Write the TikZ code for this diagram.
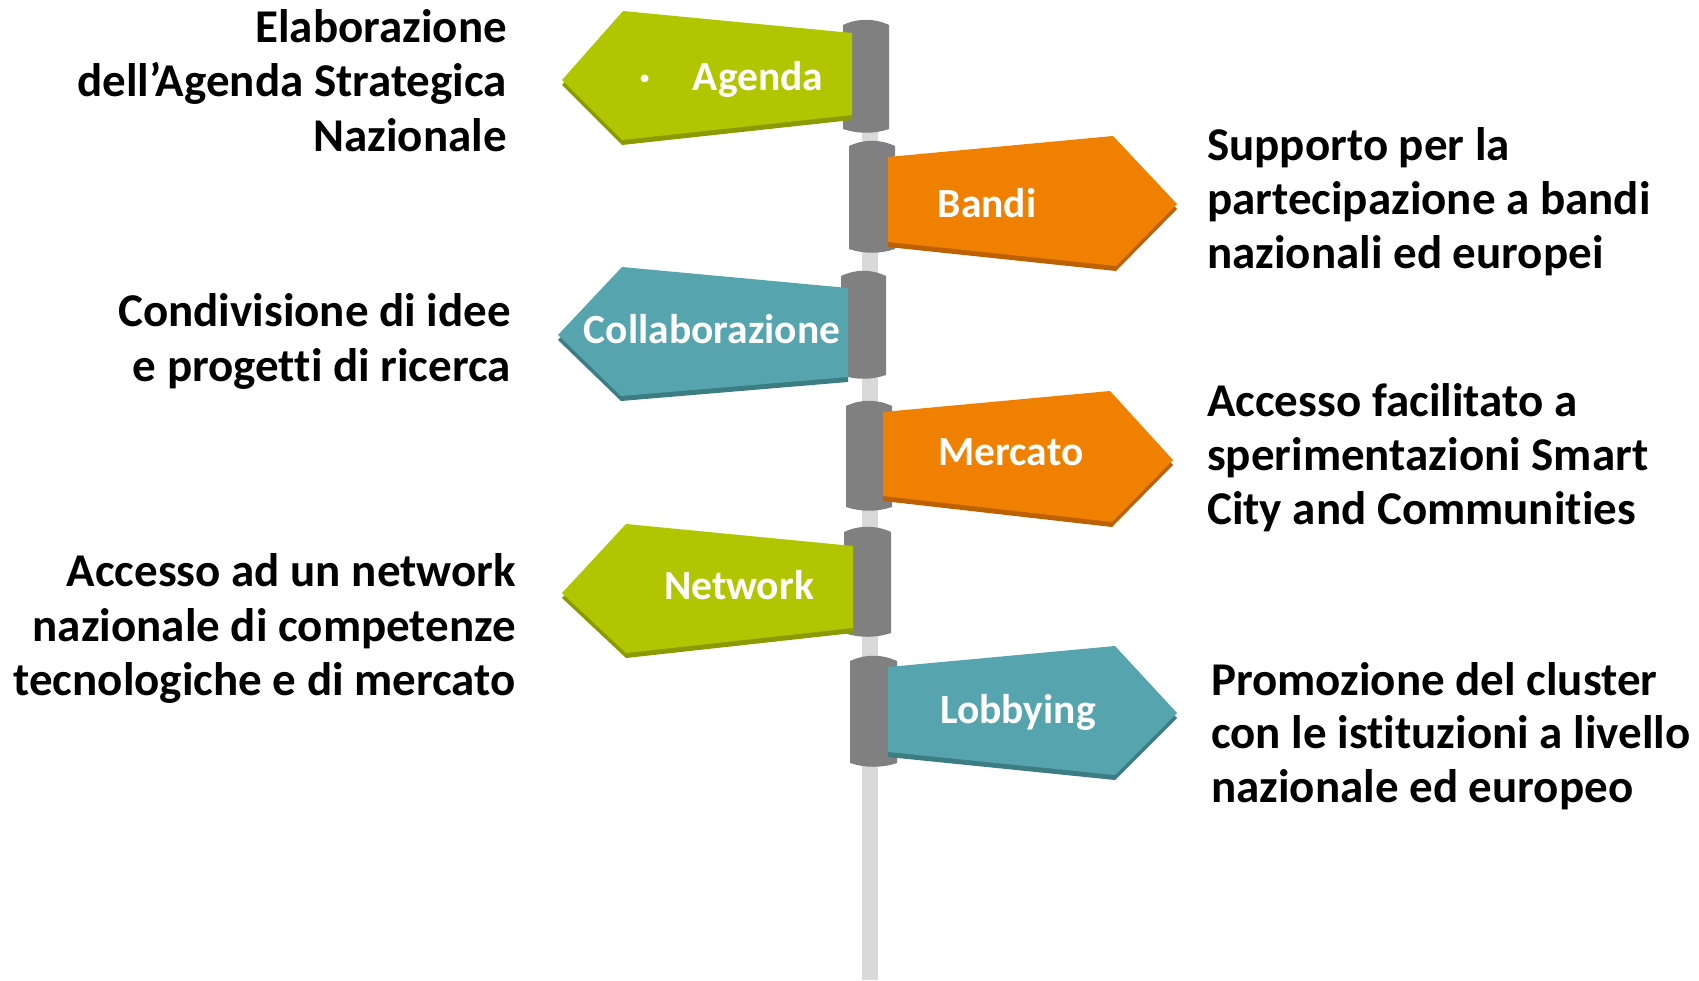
\documentclass[tikz,border=0pt]{standalone}
\usepackage{fontspec}
\setmainfont{Carlito}[Ligatures=NoCommon]
\definecolor{sgreen}{RGB}{178,198,0}
\definecolor{sgreend}{RGB}{138,154,0}
\definecolor{sorange}{RGB}{240,128,0}
\definecolor{sorangedk}{RGB}{188,96,0}
\definecolor{steal}{RGB}{86,165,174}
\definecolor{stealdk}{RGB}{60,124,131}
\definecolor{sleevegray}{RGB}{128,128,128}
\definecolor{polegray}{RGB}{217,217,217}
\newcommand\mysleeve[4]{\fill[sleevegray] (#1,#3+5) .. controls (#1+15,#3-2) and (#2-15,#3-2) .. (#2,#3+5) -- (#2,#4-4) .. controls (#2-15,#4+1) and (#1+15,#4+1) .. (#1,#4-4) -- cycle;}
\newcommand\myflag[3]{\fill[#3, shift={(0,5)}] #1; \fill[#2] #1;}
\begin{document}
\begin{tikzpicture}[x=1pt,y=-1pt,
  lbl/.style={text=white, font=\fontsize{41.5}{48}\selectfont\bfseries, inner sep=0, anchor=base},
  bodyl/.style={text=black, font=\fontsize{47}{54.5}\selectfont\bfseries, inner sep=0, anchor=base east},
  bodyr/.style={text=black, font=\fontsize{47}{54.5}\selectfont\bfseries, inner sep=0, anchor=base west}]
\useasboundingbox (0,0) rectangle (1699,980);
\fill[white] (0,0) rectangle (1699,980);
% pole
\fill[polegray] (862,30) rectangle (878,980);
% sleeves
\mysleeve{843}{889}{20}{133}
\mysleeve{849}{895}{141}{253}
\mysleeve{841}{886}{271}{379}
\mysleeve{846}{892}{401}{511}
\mysleeve{844}{891}{527}{637}
\mysleeve{850}{897}{656}{767}
% flags
\myflag{(562,80) -- (623,11) -- (852,33) -- (852,115) -- (622,140) -- cycle}{sgreen}{sgreend}
\myflag{(888,157) -- (1113,136) -- (1177,204) -- (1116,266) -- (888,242) -- cycle}{sorange}{sorangedk}
\myflag{(558,335) -- (622,267) -- (848,288) -- (848,377) -- (621,396) -- cycle}{steal}{stealdk}
\myflag{(883,412) -- (1110,391) -- (1173,460) -- (1112,522) -- (883,496) -- cycle}{sorange}{sorangedk}
\myflag{(562,593) -- (626,524) -- (853,546) -- (853,628) -- (626,653) -- cycle}{sgreen}{sgreend}
\myflag{(888,667) -- (1115,646) -- (1177,713) -- (1115,775) -- (888,752) -- cycle}{steal}{stealdk}
% labels
\node[lbl] (dot) at (645,90) {·};
\node[lbl] (agenda) at (758,90) {Agenda};
\node[lbl] (bandi) at (987,217) {Bandi};
\node[lbl] (collab) at (712,343) {Collaborazione};
\node[lbl] (mercato) at (1011,465) {Mercato};
\node[lbl] (network) at (739,599) {Network};
\node[lbl] (lobbying) at (1018,723) {Lobbying};
% left texts
\node[bodyl] (l1a) at (507,42) {Elaborazione};
\node[bodyl] (l1b) at (507,96) {dell’Agenda Strategica};
\node[bodyl] (l1c) at (507,151) {Nazionale};
\node[bodyl] (l2a) at (511,326) {Condivisione di idee};
\node[bodyl] (l2b) at (511,381) {e progetti di ricerca};
\node[bodyl] (l3a) at (516,586) {Accesso ad un network};
\node[bodyl] (l3b) at (516,641) {nazionale di competenze};
\node[bodyl] (l3c) at (516,695) {tecnologiche e di mercato};
% right texts
\node[bodyr] (r1a) at (1207,160) {Supporto per la};
\node[bodyr] (r1b) at (1207,214) {partecipazione a bandi};
\node[bodyr] (r1c) at (1207,268) {nazionali ed europei};
\node[bodyr] (r2a) at (1207,416) {Accesso facilitato a};
\node[bodyr] (r2b) at (1207,470) {sperimentazioni Smart};
\node[bodyr] (r2c) at (1207,524) {City and Communities};
\node[bodyr] (r3a) at (1211,695) {Promozione del cluster};
\node[bodyr] (r3b) at (1211,748) {con le istituzioni a livello};
\node[bodyr] (r3c) at (1211,802) {nazionale ed europeo};
\end{tikzpicture}
\end{document}
